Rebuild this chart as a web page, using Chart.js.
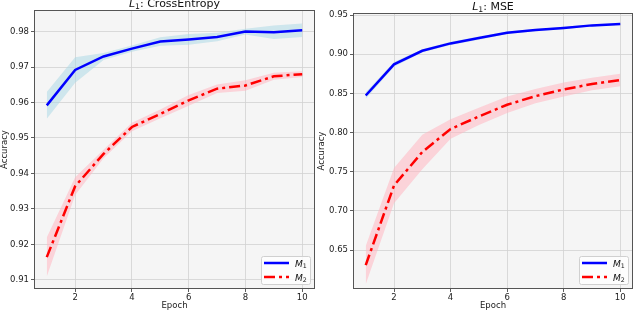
<!DOCTYPE html>
<html>
<head>
<meta charset="utf-8">
<script src="https://cdn.jsdelivr.net/npm/chart.js@4/dist/chart.umd.min.js"></script>
<style>
  html, body { margin: 0; padding: 0; background: #fff; }
  #wrap { position: relative; width: 634px; height: 312px; }
  canvas { position: absolute; top: 0; }
</style>
</head>
<body>
<div id="wrap">
  <canvas id="ce" width="317" height="312" style="left:0"></canvas>
  <canvas id="mse" width="317" height="312" style="left:317px"></canvas>
</div>
<script>
const epochs = [1, 2, 3, 4, 5, 6, 7, 8, 9, 10];
const xTicks = [2, 4, 6, 8, 10];

// L1: CrossEntropy
const ceM1 = [0.9592, 0.9692, 0.9730, 0.9752, 0.9772, 0.9778, 0.9785, 0.9800, 0.9798, 0.9804];
const ceM1Err = [0.0038, 0.0036, 0.0010, 0.0009, 0.0012, 0.0015, 0.0012, 0.0008, 0.0019, 0.0019];
const ceM2 = [0.9164, 0.9364, 0.9455, 0.9531, 0.9568, 0.9606, 0.9639, 0.9648, 0.9674, 0.9680];
const ceM2Err = [0.0055, 0.0025, 0.0012, 0.0012, 0.0012, 0.0015, 0.0012, 0.0015, 0.0010, 0.0008];
const ceTicks = [0.91, 0.92, 0.93, 0.94, 0.95, 0.96, 0.97, 0.98];

// L1: MSE
const mseM1 = [0.8473, 0.8870, 0.9044, 0.9138, 0.9206, 0.9274, 0.9308, 0.9334, 0.9368, 0.9385];
const mseM1Err = [0.004, 0.003, 0.002, 0.002, 0.002, 0.0015, 0.0015, 0.0015, 0.001, 0.001];
const mseM2 = [0.6308, 0.7324, 0.7752, 0.8045, 0.8205, 0.8355, 0.8465, 0.8550, 0.8620, 0.8670];
const mseM2Err = [0.0245, 0.0225, 0.022, 0.0125, 0.011, 0.0105, 0.009, 0.009, 0.008, 0.008];
const mseTicks = [0.65, 0.70, 0.75, 0.80, 0.85, 0.90, 0.95];

const FONT = 'DejaVu Sans';

function pts(ys, err, sign) {
  return epochs.map((x, i) => ({ x: x, y: ys[i] + sign * (err ? err[i] : 0) }));
}

// draw text pieces like "L_1: MSE" with italic letter and subscript
function mathWidth(ctx, parts, size) {
  let w = 0;
  parts.forEach(p => {
    const s = p.sub ? size * 0.7 : size;
    ctx.font = (p.italic ? 'italic ' : '') + s + 'px "' + FONT + '"';
    w += ctx.measureText(p.text).width;
  });
  return w;
}
function drawMath(ctx, parts, x, y, size) {
  parts.forEach(p => {
    const s = p.sub ? size * 0.7 : size;
    ctx.font = (p.italic ? 'italic ' : '') + s + 'px "' + FONT + '"';
    ctx.fillText(p.text, x, p.sub ? y + size * 0.2 : y);
    x += ctx.measureText(p.text).width;
  });
}

const framePlugin = {
  id: 'frame',
  beforeDraw(chart) {
    const a = chart.chartArea, ctx = chart.ctx;
    ctx.save();
    ctx.fillStyle = '#f5f5f5';
    ctx.fillRect(a.left, a.top, a.right - a.left, a.bottom - a.top);
    ctx.restore();
  },
  afterDatasetsDraw(chart) {
    const a = chart.chartArea, ctx = chart.ctx;
    ctx.save();
    ctx.strokeStyle = '#555';
    ctx.lineWidth = 1;
    ctx.strokeRect(a.left + 0.5, a.top + 0.5, a.right - a.left - 1, a.bottom - a.top - 1);
    ctx.restore();
  },
  afterDraw(chart) {
    const a = chart.chartArea, ctx = chart.ctx;
    const o = chart.options.plugins.frame;
    ctx.save();
    ctx.fillStyle = '#111';
    ctx.textBaseline = 'alphabetic';
    // title
    const tw = mathWidth(ctx, o.title, 11);
    drawMath(ctx, o.title, (a.left + a.right) / 2 - tw / 2, a.top - 3, 11);
    // legend
    const bw = 49, bh = 28;
    const bx = a.right - 5 - bw, by = a.bottom - 5 - bh;
    ctx.fillStyle = 'rgba(255,255,255,0.8)';
    ctx.strokeStyle = '#d0d0d0';
    ctx.lineWidth = 1;
    ctx.beginPath();
    ctx.roundRect(bx + 0.5, by + 0.5, bw, bh, 2);
    ctx.fill();
    ctx.stroke();
    const items = [
      { color: '#0000ff', dash: [], label: [{ text: 'M', italic: true }, { text: '1', sub: true }] },
      { color: '#ff0000', dash: [11, 4, 3, 4], label: [{ text: 'M', italic: true }, { text: '2', sub: true }] }
    ];
    items.forEach((it, i) => {
      const ly = by + 7 + i * 14;
      ctx.strokeStyle = it.color;
      ctx.lineWidth = 2.5;
      ctx.setLineDash(it.dash);
      ctx.beginPath();
      ctx.moveTo(bx + 3, ly);
      ctx.lineTo(bx + 28, ly);
      ctx.stroke();
      ctx.setLineDash([]);
      ctx.fillStyle = '#111';
      drawMath(ctx, it.label, bx + 34, ly + 3.5, 9);
    });
    ctx.restore();
  }
};

function makeChart(id, m1, m1Err, m2, m2Err, yMin, yMax, yTicks, yWidth, pad, title) {
  const grid = {
    color: '#d2d2d2', lineWidth: 0.8, borderDash: [3, 2],
    tickLength: 3, tickColor: '#333', tickWidth: 0.8, tickBorderDash: []
  };
  const tickFont = { family: FONT, size: 8.5 };
  return new Chart(document.getElementById(id), {
    type: 'line',
    data: {
      datasets: [
        { data: pts(m1, null, 0), borderColor: '#0000ff', borderWidth: 2.5, pointRadius: 0, fill: false, tension: 0, order: 0 },
        { data: pts(m2, null, 0), borderColor: '#ff0000', borderWidth: 2.5, borderDash: [11, 4, 3, 4], pointRadius: 0, fill: false, tension: 0, order: 0 },
        { data: pts(m1, m1Err, 1), borderWidth: 0, pointRadius: 0, fill: '+1', backgroundColor: 'rgba(173,216,230,0.55)', order: 2 },
        { data: pts(m1, m1Err, -1), borderWidth: 0, pointRadius: 0, fill: false, order: 2 },
        { data: pts(m2, m2Err, 1), borderWidth: 0, pointRadius: 0, fill: '+1', backgroundColor: 'rgba(255,182,193,0.55)', order: 2 },
        { data: pts(m2, m2Err, -1), borderWidth: 0, pointRadius: 0, fill: false, order: 2 }
      ]
    },
    options: {
      responsive: false,
      animation: false,
      devicePixelRatio: 1,
      layout: { padding: pad },
      plugins: {
        legend: { display: false },
        tooltip: { enabled: false },
        frame: { title: title }
      },
      scales: {
        x: {
          type: 'linear', min: 0.55, max: 10.45,
          afterBuildTicks: s => { s.ticks = xTicks.map(v => ({ value: v })); },
          afterFit: s => { s.height = 23; },
          ticks: { font: tickFont, color: '#222', padding: 1, maxRotation: 0, callback: v => String(v) },
          grid: grid,
          border: { display: false },
          title: { display: true, text: 'Epoch', font: tickFont, color: '#222', padding: { top: 0, bottom: 1 } }
        },
        y: {
          min: yMin, max: yMax,
          afterBuildTicks: s => { s.ticks = yTicks.map(v => ({ value: v })); },
          afterFit: s => { s.width = yWidth; },
          ticks: { font: tickFont, color: '#222', padding: 2, callback: v => v.toFixed(2) },
          grid: grid,
          border: { display: false },
          title: { display: true, text: 'Accuracy', font: tickFont, color: '#222', padding: { top: 0, bottom: 0 } }
        }
      }
    },
    plugins: [framePlugin]
  });
}

makeChart('ce', ceM1, ceM1Err, ceM2, ceM2Err, 0.9074, 0.9861, ceTicks, 34,
  { top: 10, right: 2, left: 0, bottom: 0 },
  [{ text: 'L', italic: true }, { text: '1', sub: true }, { text: ': CrossEntropy' }]);

makeChart('mse', mseM1, mseM1Err, mseM2, mseM2Err, 0.6003, 0.9526, mseTicks, 36,
  { top: 13, right: 1, left: 0, bottom: 0 },
  [{ text: 'L', italic: true }, { text: '1', sub: true }, { text: ': MSE' }]);
</script>
</body>
</html>
